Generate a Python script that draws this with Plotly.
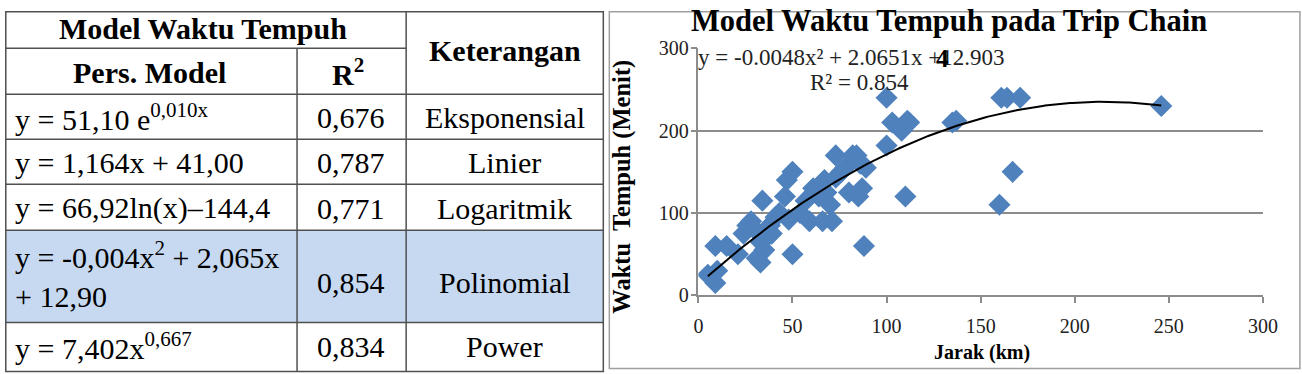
import numpy as np
import plotly.graph_objects as go

# ---------------- data ----------------
jarak_km = [5, 9, 10, 9, 15, 21, 24, 26, 28, 30, 31, 33, 33, 35, 36, 38, 39, 34, 41, 43,
            46, 47, 50, 50, 48, 54, 57, 59, 61, 64, 66, 67, 68, 70, 71, 73, 73, 76, 78, 80,
            82, 84, 85, 86, 87, 88, 89, 100, 100, 103, 108, 110, 111, 112, 135, 137, 160,
            161, 164, 167, 171, 246]
waktu_menit = [25, 15, 30, 60, 60, 50, 75, 85, 90, 80, 45, 40, 65, 55, 70, 85, 75, 115, 95, 100,
               120, 140, 150, 50, 92, 100, 115, 90, 130, 120, 90, 140, 125, 110, 90, 143, 170, 150, 155, 125,
               170, 170, 120, 160, 130, 60, 155, 182, 240, 210, 200, 120, 212, 210, 210, 212, 110,
               240, 240, 150, 240, 230]

# trendline coefficients shown on the chart
coef_a, coef_b, coef_c = -0.0048, 2.0651, 12.903
trend_x_min, trend_x_max = 5, 246

x_ticks = [0, 50, 100, 150, 200, 250, 300]
y_ticks = [0, 100, 200, 300]

chart_title = "Model Waktu Tempuh pada Trip Chain"
x_title = "Jarak (km)"
y_title = "Waktu  Tempuh (Menit)"
eq_text = "y = -0.0048x² + 2.0651x +12.903"
r2_text = "R² = 0.854"

table_header1 = "Model Waktu Tempuh"
table_header_ket = "Keterangan"
table_header_pers = "Pers. Model"
table_header_r2 = "R<sup>2</sup>"
table_models = ["y = 51,10 e<sup>0,010x</sup>",
                "y = 1,164x + 41,00",
                "y = 66,92ln(x)–144,4",
                "y = -0,004x<sup>2</sup> + 2,065x<br>+ 12,90",
                "y = 7,402x<sup>0,667</sup>"]
table_r2 = ["0,676", "0,787", "0,771", "0,854", "0,834"]
table_ket = ["Eksponensial", "Linier", "Logaritmik", "Polinomial", "Power"]
highlight_row = 3

# ---------------- layout helpers ----------------
# target positions are given in picture pixels; the page maps figure pixels
# to picture pixels with a small fixed offset/scale, compensated here.
SX, BX = 0.984, 5.2
SY, BY = 0.943, 10.7
FW, FH = 1320, 388

def px(x):
    f = (x - BX) / SX
    return max(f, 0.8) / FW
def py(y):
    f = (y - BY) / SY
    return 1 - max(f, 0.8) / FH

SERIF = "Liberation Serif, Times New Roman, serif"

fig = go.Figure()

tx = np.linspace(trend_x_min, trend_x_max, 200)
ty = coef_a * tx ** 2 + coef_b * tx + coef_c

fig.add_trace(go.Scatter(x=jarak_km, y=waktu_menit, mode="markers",
                         marker=dict(symbol="diamond", size=17, color="#4F81BD",
                                     line=dict(width=0)),
                         showlegend=False, hoverinfo="x+y"))
fig.add_trace(go.Scatter(x=tx, y=ty, mode="lines",
                         line=dict(color="black", width=2),
                         showlegend=False, hoverinfo="skip"))

shapes = []
annotations = []

# ---------------- table ----------------
row_edges = [3, 48, 94, 139, 184, 230, 322, 371]
col_edges = [1, 297, 406, 603]
line_col = "#505050"

shapes.append(dict(type="rect", xref="paper", yref="paper",
                   x0=px(col_edges[0]), x1=px(col_edges[3]),
                   y0=py(row_edges[2 + highlight_row + 1]), y1=py(row_edges[2 + highlight_row]),
                   fillcolor="#C6D9F1", line=dict(width=0), layer="below"))
shapes.append(dict(type="rect", xref="paper", yref="paper",
                   x0=px(col_edges[0]), x1=px(col_edges[3]),
                   y0=py(row_edges[-1]), y1=py(row_edges[0]),
                   line=dict(color=line_col, width=1.5)))
for i, ye in enumerate(row_edges[1:-1], start=1):
    x1 = col_edges[2] if i == 1 else col_edges[3]
    shapes.append(dict(type="line", xref="paper", yref="paper",
                       x0=px(col_edges[0]), x1=px(x1), y0=py(ye), y1=py(ye),
                       line=dict(color=line_col, width=1.5)))
shapes.append(dict(type="line", xref="paper", yref="paper",
                   x0=px(col_edges[1]), x1=px(col_edges[1]),
                   y0=py(row_edges[1]), y1=py(row_edges[-1]),
                   line=dict(color=line_col, width=1.5)))
shapes.append(dict(type="line", xref="paper", yref="paper",
                   x0=px(col_edges[2]), x1=px(col_edges[2]),
                   y0=py(row_edges[0]), y1=py(row_edges[-1]),
                   line=dict(color=line_col, width=1.5)))

TFS = 30
def tann(text, x, y, xanchor="center", bold=False, size=TFS):
    t = f"<b>{text}</b>" if bold else text
    annotations.append(dict(text=t, x=px(x), y=py(y), xref="paper", yref="paper",
                            xanchor=xanchor, yanchor="middle", showarrow=False,
                            align="left" if xanchor == "left" else "center",
                            font=dict(family=SERIF, size=size, color="black")))

tann(table_header1, 203, 28, bold=True)
tann(table_header_ket, (col_edges[2] + col_edges[3]) / 2, 50, bold=True)
tann(table_header_pers, 150, 72, bold=True)
tann(table_header_r2, 348, 72, bold=True)
row_centers = [117, 162, 208, 274, 346]
for i in range(len(table_models)):
    yc = row_centers[i]
    tann(table_models[i], 13, yc, xanchor="left")
    yv = yc + 8 if i == highlight_row else yc
    tann(table_r2[i], 351, yv)
    tann(table_ket[i], (col_edges[2] + col_edges[3]) / 2, yv)

# ---------------- chart panel ----------------
shapes.append(dict(type="rect", xref="paper", yref="paper",
                   x0=px(609), x1=px(1299), y0=py(368), y1=py(2),
                   line=dict(color="#A0A0A0", width=1.5)))

annotations.append(dict(text=f"<b>{chart_title}</b>", x=px(948), y=py(21),
                        xref="paper", yref="paper", xanchor="center", yanchor="middle",
                        showarrow=False, font=dict(family=SERIF, size=30.5, color="black")))
annotations.append(dict(text=f"<b>{x_title}</b>", x=px(981), y=py(352),
                        xref="paper", yref="paper", xanchor="center", yanchor="middle",
                        showarrow=False, font=dict(family=SERIF, size=20, color="black")))
annotations.append(dict(text=f"<b>{y_title}</b>", x=px(622), y=py(186), textangle=-90,
                        xref="paper", yref="paper", xanchor="center", yanchor="middle",
                        showarrow=False, font=dict(family=SERIF, size=24.5, color="black")))
annotations.append(dict(text=eq_text, x=px(696), y=py(57),
                        xref="paper", yref="paper", xanchor="left", yanchor="middle",
                        showarrow=False, font=dict(family=SERIF, size=23, color="#222222")))
annotations.append(dict(text="<b>4</b>", x=px(942), y=py(58),
                        xref="paper", yref="paper", xanchor="center", yanchor="middle",
                        showarrow=False, font=dict(family=SERIF, size=25, color="black")))
annotations.append(dict(text=r2_text, x=px(859), y=py(82),
                        xref="paper", yref="paper", xanchor="center", yanchor="middle",
                        showarrow=False, font=dict(family=SERIF, size=23, color="#222222")))

grid_col = "#8C8C8C"
fig.update_layout(
    width=FW, height=FH,
    margin=dict(l=0, r=0, t=0, b=0),
    paper_bgcolor="white", plot_bgcolor="white",
    shapes=shapes, annotations=annotations,
    xaxis=dict(domain=[px(698), px(1262)], range=[0, 300], tickvals=x_ticks,
               showgrid=False, zeroline=False, showline=True, linecolor=grid_col, linewidth=1.5,
               ticks="outside", ticklen=6, tickcolor=grid_col, tickwidth=1.5,
               ticklabelstandoff=6,
               tickfont=dict(family=SERIF, size=20, color="#222222"), fixedrange=True),
    yaxis=dict(domain=[py(295), py(48)], range=[0, 300], tickvals=y_ticks,
               showgrid=True, gridcolor=grid_col, gridwidth=1.5, zeroline=False,
               showline=True, linecolor=grid_col, linewidth=1.5,
               ticks="outside", ticklen=6, tickcolor=grid_col, tickwidth=1.5,
               ticklabelstandoff=-2,
               tickfont=dict(family=SERIF, size=20, color="#222222"), fixedrange=True),
)

fig.write_html("out.html")
